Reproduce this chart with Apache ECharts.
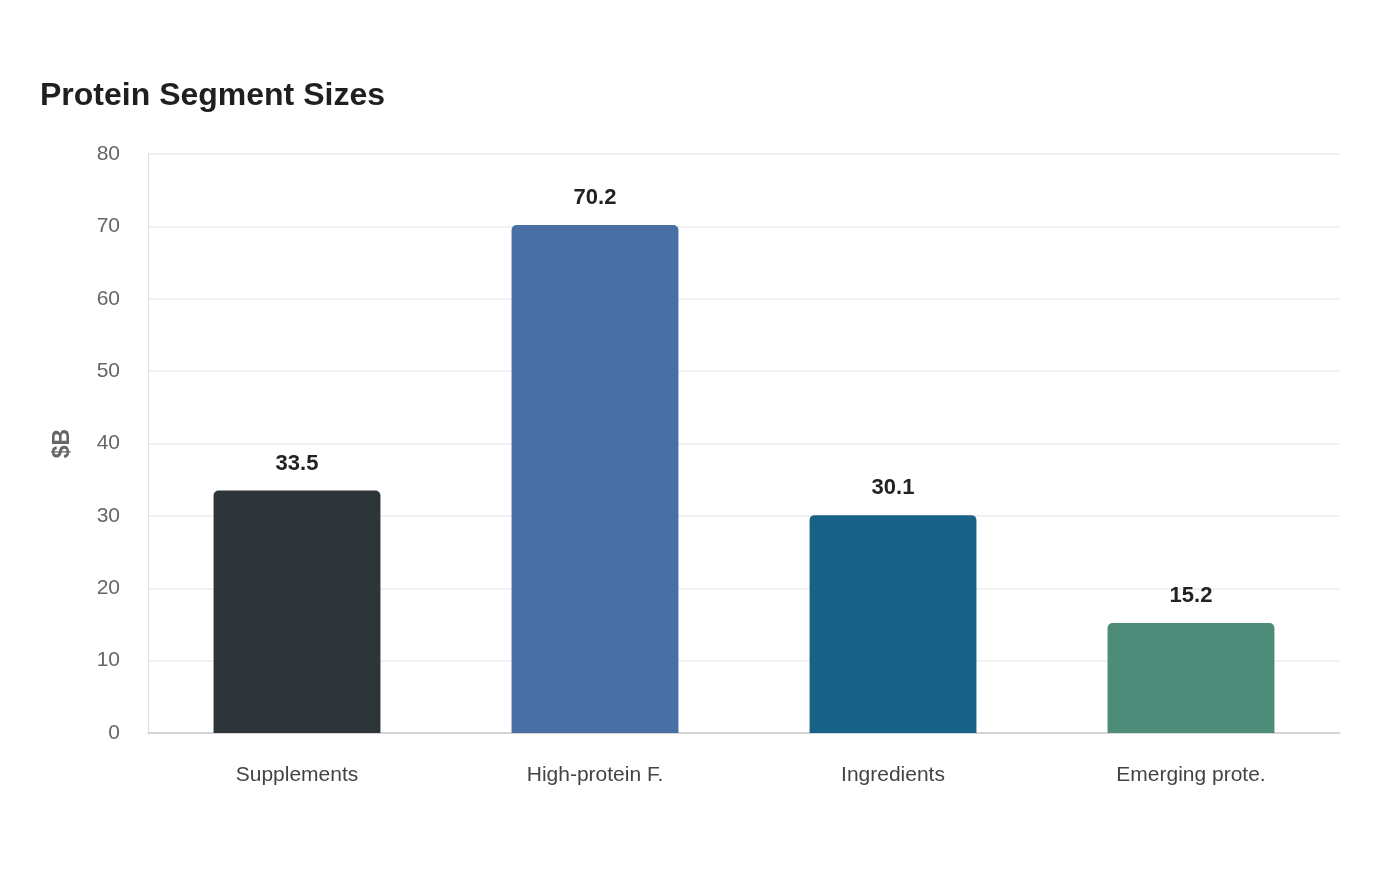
<!DOCTYPE html>
<html>
<head>
<meta charset="utf-8">
<script src="https://cdn.jsdelivr.net/npm/echarts@6/dist/echarts.min.js"></script>
<style>
  html, body { margin: 0; padding: 0; background: #fff; }
  #chart { width: 1400px; height: 880px; }
</style>
</head>
<body>
<div id="chart"></div>
<script>
var categories = ['Supplements', 'High-protein F.', 'Ingredients', 'Emerging prote.'];
var sizes = [33.5, 70.2, 30.1, 15.2];
var barColors = ['#2d3538', '#4a6fa5', '#186189', '#4e8c7a'];

var chart = echarts.init(document.getElementById('chart'));

var option = {
    backgroundColor: '#ffffff',
    textStyle: { fontFamily: 'Liberation Sans, Arial, sans-serif' },
    title: {
        text: 'Protein Segment Sizes',
        left: 40,
        top: 80,
        padding: 0,
        textStyle: {
            fontSize: 32,
            fontWeight: 'bold',
            color: '#1f1f1f'
        }
    },
    grid: {
        left: 148,
        right: 60,
        top: 154,
        bottom: 147
    },
    xAxis: {
        type: 'category',
        data: categories,
        axisTick: { show: false },
        axisLine: { lineStyle: { color: '#cccccc', width: 1.5 } },
        axisLabel: {
            margin: 32,
            fontSize: 21,
            color: '#444444'
        }
    },
    yAxis: {
        type: 'value',
        min: 0,
        max: 80,
        interval: 10,
        name: '$B',
        nameLocation: 'middle',
        nameGap: 74,
        nameTextStyle: {
            fontSize: 23,
            fontWeight: 'bold',
            color: '#666666'
        },
        axisLine: { show: true, lineStyle: { color: '#d8d8d8', type: 'dotted' } },
        axisTick: { show: false },
        axisLabel: {
            margin: 28,
            fontSize: 21,
            color: '#666666'
        },
        splitLine: { lineStyle: { color: '#ececec', width: 1.5 } }
    },
    series: [{
        type: 'bar',
        data: sizes.map(function (v, i) {
            return { value: v, itemStyle: { color: barColors[i] } };
        }),
        barWidth: '56%',
        itemStyle: { borderRadius: [5, 5, 0, 0] },
        label: {
            show: true,
            position: 'top',
            distance: 16,
            fontSize: 22,
            fontWeight: 'bold',
            color: '#222222'
        }
    }]
};
chart.setOption(option);
</script>
</body>
</html>
